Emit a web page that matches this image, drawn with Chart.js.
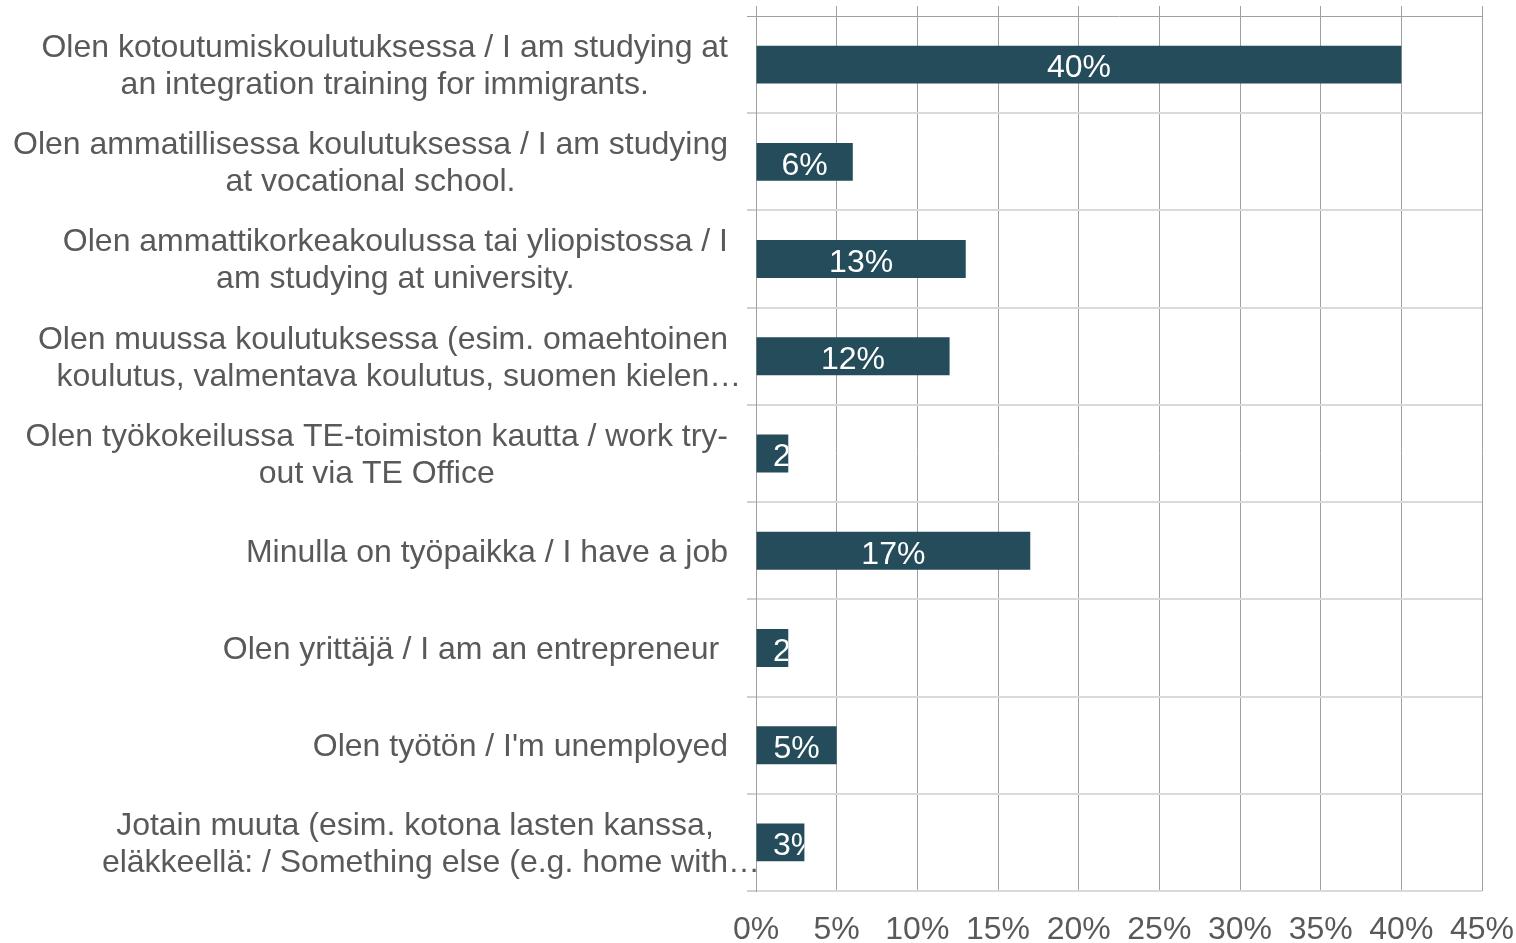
<!DOCTYPE html>
<html>
<head>
<meta charset="utf-8">
<script src="https://cdn.jsdelivr.net/npm/chart.js@4/dist/chart.umd.min.js"></script>
<style>
  html, body { margin: 0; padding: 0; background: #fff; }
  canvas { display: block; }
</style>
</head>
<body>
<canvas id="chart" width="1516" height="943"></canvas>
<script>
// category labels, already wrapped the way the picture shows them
const categories = [
  ['Olen kotoutumiskoulutuksessa / I am studying at', 'an integration training for immigrants.'],
  ['Olen ammatillisessa koulutuksessa / I am studying', 'at vocational school.'],
  ['Olen ammattikorkeakoulussa tai yliopistossa / I', 'am studying at university.'],
  ['Olen muussa koulutuksessa (esim. omaehtoinen', 'koulutus, valmentava koulutus, suomen kielen…'],
  ['Olen työkokeilussa TE-toimiston kautta / work try-', 'out via TE Office'],
  ['Minulla on työpaikka / I have a job'],
  ['Olen yrittäjä / I am an entrepreneur '],
  ['Olen työtön / I\'m unemployed'],
  ['Jotain muuta (esim. kotona lasten kanssa,', 'eläkkeellä: / Something else (e.g. home with…']
];
const values = [40, 6, 13, 12, 2, 17, 2, 5, 3];
const xTicks = [0, 5, 10, 15, 20, 25, 30, 35, 40, 45];

const FONT = '"Liberation Sans", Arial, sans-serif';
const TEXT_GREY = '#595959';
const AXIS_GREY = '#a0a0a0';
const ROW_GREY = '#d9d9d9';
const BAR = '#244c5a';

function align1(px) {
  return Math.round(px - 0.5) + 0.5;
}

// vertical lines poke a little above the plot, like the original
const gridStubs = {
  id: 'gridStubs',
  beforeDatasetsDraw(chart) {
    const { ctx, chartArea, scales } = chart;
    ctx.save();
    ctx.strokeStyle = AXIS_GREY;
    ctx.lineWidth = 1;
    xTicks.forEach(t => {
      const x = align1(scales.x.getPixelForValue(t));
      ctx.beginPath();
      ctx.moveTo(x, chartArea.top - 10);
      ctx.lineTo(x, chartArea.top);
      ctx.stroke();
    });
    ctx.restore();
  }
};

// value labels inside bars, clipped to the bar
const barLabels = {
  id: 'barLabels',
  afterDatasetsDraw(chart) {
    const { ctx, chartArea } = chart;
    const meta = chart.getDatasetMeta(0);
    ctx.save();
    ctx.font = '32px ' + FONT;
    ctx.fillStyle = '#ffffff';
    ctx.textAlign = 'center';
    ctx.textBaseline = 'middle';
    meta.data.forEach((bar, i) => {
      const p = bar.getProps(['x', 'y', 'base', 'height'], true);
      const txt = values[i] + '%';
      const w = ctx.measureText(txt).width;
      const cx = Math.max((p.base + p.x) / 2, chartArea.left + 17 + w / 2);
      ctx.save();
      ctx.beginPath();
      ctx.rect(p.base, p.y - p.height / 2, p.x - p.base, p.height);
      ctx.clip();
      ctx.fillText(txt, cx, p.y + 4);
      ctx.restore();
    });
    ctx.restore();
  }
};

// category labels: block right-aligned, each line centred in the block,
// a trailing ellipsis hangs past the block edge
const categoryLabels = {
  id: 'categoryLabels',
  afterDraw(chart) {
    const { ctx, scales } = chart;
    const right = 728;
    const lineH = 37;
    ctx.save();
    ctx.font = '32px ' + FONT;
    ctx.fillStyle = TEXT_GREY;
    ctx.textAlign = 'left';
    ctx.textBaseline = 'middle';
    categories.forEach((lines, i) => {
      const yc = scales.y.getPixelForValue(i) + 2;
      const widths = lines.map(l => ctx.measureText(l.replace(/…$/, '')).width);
      const cx = right - Math.max(...widths) / 2;
      lines.forEach((l, j) => {
        ctx.fillText(l, cx - widths[j] / 2, yc + (j - (lines.length - 1) / 2) * lineH);
      });
    });
    ctx.restore();
  }
};

new Chart(document.getElementById('chart'), {
  type: 'bar',
  data: {
    labels: categories,
    datasets: [{
      data: values,
      backgroundColor: BAR,
      borderWidth: 0,
      barPercentage: 0.39,
      categoryPercentage: 1
    }]
  },
  options: {
    indexAxis: 'y',
    responsive: false,
    animation: false,
    devicePixelRatio: 1,
    layout: { padding: { top: 16, right: 34, left: 0, bottom: 0 } },
    plugins: {
      legend: { display: false },
      tooltip: { enabled: false }
    },
    scales: {
      x: {
        min: 0,
        max: 45,
        afterBuildTicks: s => { s.ticks = xTicks.map(v => ({ value: v })); },
        ticks: {
          callback: v => v + '%',
          color: TEXT_GREY,
          font: { family: FONT, size: 32 },
          padding: 20,
          maxRotation: 0
        },
        grid: { color: AXIS_GREY, lineWidth: 1, drawTicks: false },
        border: { display: false },
        afterFit: s => { s.height = 52; s.paddingLeft = 0; s.paddingRight = 0; }
      },
      y: {
        grid: {
          offset: true,
          color: c => c.index === 0 ? AXIS_GREY : ROW_GREY,
          lineWidth: c => c.index === 0 ? 1 : 2,
          tickLength: 9,
          tickColor: AXIS_GREY,
          tickWidth: 1
        },
        border: { display: true, color: AXIS_GREY, width: 1 },
        ticks: { autoSkip: false, callback: () => '', font: { size: 10 } },
        afterFit: s => { s.width = 756; }
      }
    }
  },
  plugins: [gridStubs, barLabels, categoryLabels]
});
</script>
</body>
</html>
